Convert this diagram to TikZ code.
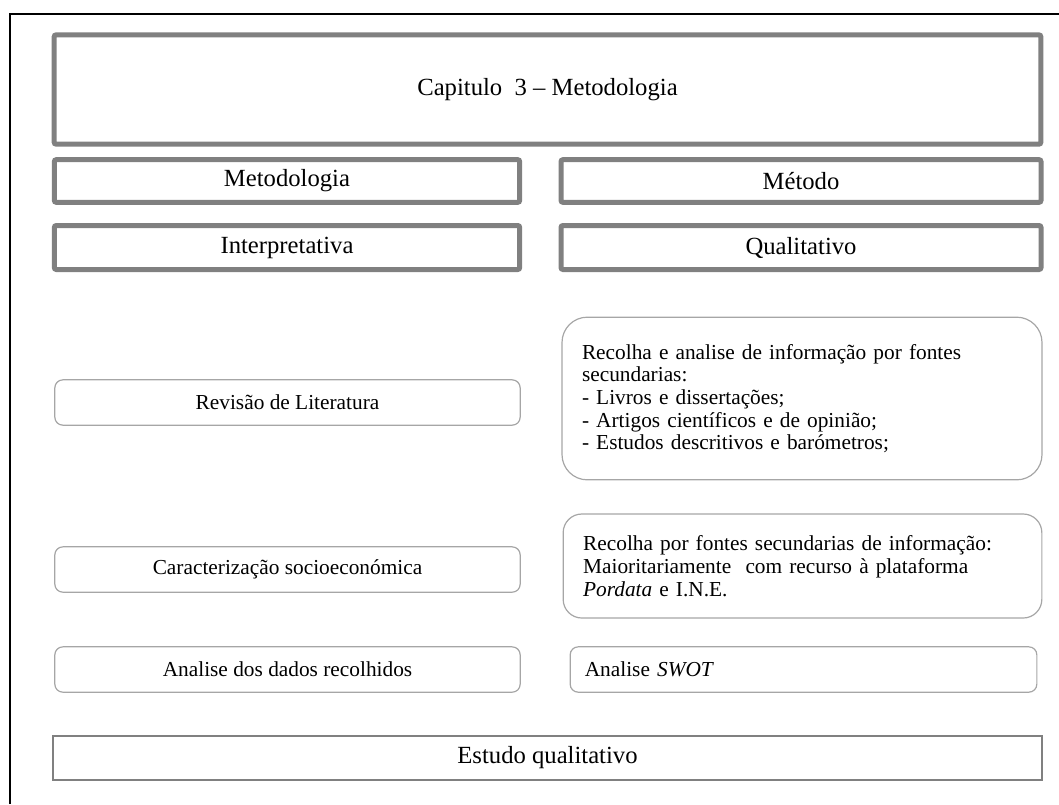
\documentclass[tikz,border=0pt]{standalone}
\usepackage{fontspec}
\setmainfont{Liberation Serif}
\definecolor{framegray}{HTML}{808080}
\definecolor{softgray}{HTML}{A6A6A6}
\tikzset{
	heavybox/.style={draw=framegray, line width=3.75pt, rounded corners=1.5pt, fill=white, font=\fontsize{18.5}{20}\selectfont},
	softbox/.style={draw=softgray, line width=0.9pt, rounded corners=6pt},
	listbox/.style={softbox, align=left, inner xsep=15pt},
	plainbox/.style={draw=framegray, line width=1.9pt, font=\fontsize{18.5}{20}\selectfont}
}
\begin{document}
\begin{tikzpicture}[x=0.75pt, y=-0.75pt, every node/.style={font=\fontsize{16}{17}\selectfont}]

	\useasboundingbox (0,0) rectangle (1059,804);

	% Outer frame.
	\coordinate (fr_bottom) at (10,804);
	\coordinate   (fr_left) at (10,14);
	\coordinate  (fr_right) at (1059,14);
	\draw[line width=1.5pt] (fr_bottom) -- (fr_left) -- (fr_right);

	% Node definitions.
	\node[heavybox, minimum width=740pt, minimum height=82pt] (chapter) at (547.5,89.5) {Capitulo\ \ 3 -- Metodologia};

	\node[heavybox, minimum width=349pt, minimum height=32pt]  (meth_left) at (287,181) {Metodologia};
	\node[heavybox, minimum width=360pt, minimum height=32pt] (meth_right) at (801,181) {Método};
	\node[heavybox, minimum width=349pt, minimum height=33pt]  (type_left) at (287,247.5) {Interpretativa};
	\node[heavybox, minimum width=360pt, minimum height=33pt] (type_right) at (801,247.5) {Qualitativo};

	\node[softbox, minimum width=349pt, minimum height=34pt] (lit_left) at (287.5,402.5) {Revisão de Literatura};
	\node[listbox, rounded corners=19pt, text width=330pt, minimum height=122pt] (lit_right) at (802,398.5) {Recolha e analise de informação por fontes\\
		secundarias:\\
		- Livros e dissertações;\\
		- Artigos científicos e de opinião;\\
		- Estudos descritivos e barómetros;};

	\node[softbox, minimum width=349pt, minimum height=34pt] (soc_left) at (287.5,569.5) {Caracterização socioeconómica};
	\node[listbox, rounded corners=14pt, text width=329pt, minimum height=78pt] (soc_right) at (802.5,566) {Recolha por fontes secundarias de informação:\\
		Maioritariamente\ \ com recurso à plataforma\\
		\textit{Pordata} e I.N.E.};

	\node[softbox, minimum width=349pt, minimum height=34pt] (data_left) at (287.5,669.5) {Analise dos dados recolhidos};
	\node[listbox, text width=328pt, minimum height=34pt, inner xsep=11pt] (data_right) at (803.5,669.5) {Analise \textit{SWOT}};

	\node[plainbox, minimum width=742pt, minimum height=33pt] (result) at (547.5,758) {Estudo qualitativo};

\end{tikzpicture}
\end{document}
